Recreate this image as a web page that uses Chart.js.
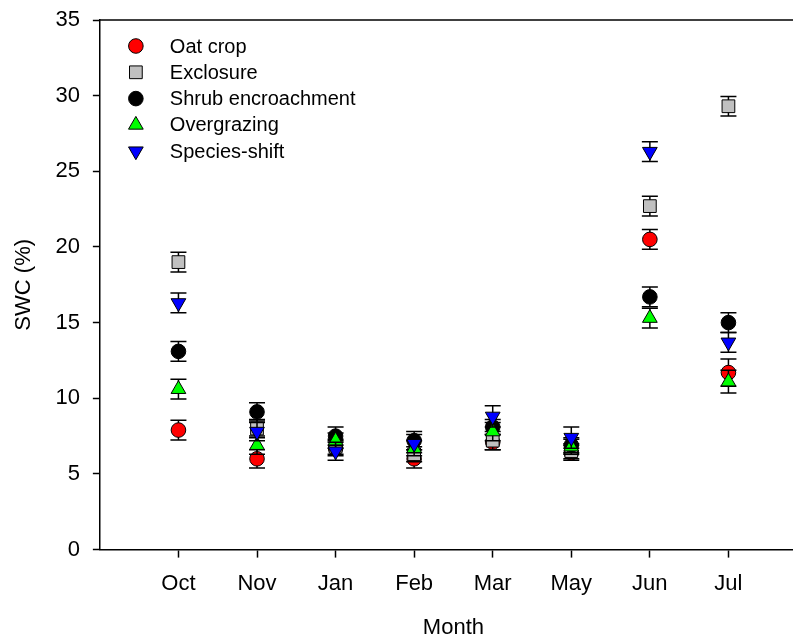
<!DOCTYPE html>
<html>
<head>
<meta charset="utf-8">
<script src="https://cdn.jsdelivr.net/npm/chart.js@4/dist/chart.umd.min.js"></script>
<style>
  html, body { margin: 0; padding: 0; background: #fff; overflow: hidden; }
  #wrap { width: 793px; height: 639px; overflow: hidden; }
</style>
</head>
<body>
<div id="wrap"><canvas id="chart" width="807" height="639"></canvas></div>
<script>
// values (SWC %, mean and error)
var months = ["Oct", "Nov", "Jan", "Feb", "Mar", "May", "Jun", "Jul"];

var oatCrop      = [7.9, 6.0, 6.7, 6.0, 7.1, 6.4, 20.5, 11.7];
var exclosure    = [19.0, 8.0, 6.8, 6.3, 7.2, 6.5, 22.7, 29.3];
var shrub        = [13.1, 9.1, 7.5, 7.2, 8.1, 6.9, 16.7, 15.0];
var overgrazing  = [10.6, 6.9, 7.2, 6.7, 7.8, 6.8, 15.3, 11.1];
var speciesShift = [16.3, 7.8, 6.5, 7.0, 8.8, 7.4, 26.3, 13.7];

var oatCropErr      = [0.65, 0.6, 0.5, 0.6, 0.5, 0.5, 0.65, 0.9];
var exclosureErr    = [0.65, 0.6, 0.5, 0.5, 0.6, 0.5, 0.65, 0.65];
var shrubErr        = [0.65, 0.6, 0.6, 0.6, 0.5, 0.5, 0.65, 0.65];
var overgrazingErr  = [0.65, 0.6, 0.5, 0.5, 0.6, 0.5, 0.65, 0.75];
var speciesShiftErr = [0.65, 0.6, 0.6, 0.6, 0.7, 0.7, 0.65, 0.65];

var yTicks = [0, 5, 10, 15, 20, 25, 30, 35];

var FONT = "'Liberation Sans', Arial, sans-serif";

function makeSet(label, values, errs, color, style, radius, rotation, n) {
  return {
    label: label,
    data: values.map(function (v, i) { return { x: i + 1, y: v }; }),
    errors: errs,
    backgroundColor: color,
    borderColor: "#000",
    borderWidth: 1,
    pointStyle: style,
    pointRadius: radius,
    pointHoverRadius: radius,
    pointRotation: rotation,
    showLine: false,
    clip: false,
    order: n   // later series are drawn on top
  };
}

var datasets = [
  makeSet("Oat crop", oatCrop, oatCropErr, "#ff0000", "circle", 7.3, 0, 4),
  makeSet("Exclosure", exclosure, exclosureErr, "#c0c0c0", "rect", 9, 0, 3),
  makeSet("Shrub encroachment", shrub, shrubErr, "#000000", "circle", 7.3, 0, 2),
  makeSet("Overgrazing", overgrazing, overgrazingErr, "#00ff00", "triangle", 8.5, 0, 1),
  makeSet("Species-shift", speciesShift, speciesShiftErr, "#0000ff", "triangle", 8.5, 180, 0)
];

// error bars go under each series' own markers
var errorBars = {
  id: "errorBars",
  beforeDatasetDraw: function (chart, args) {
    var ds = chart.data.datasets[args.index];
    var y = chart.scales.y;
    var ctx = chart.ctx;
    ctx.save();
    ctx.strokeStyle = "#000";
    ctx.lineWidth = 1.5;
    args.meta.data.forEach(function (pt, i) {
      var v = ds.data[i].y, e = ds.errors[i];
      var top = y.getPixelForValue(v + e), bot = y.getPixelForValue(v - e);
      ctx.beginPath();
      ctx.moveTo(pt.x, top); ctx.lineTo(pt.x, bot);
      ctx.moveTo(pt.x - 8, top); ctx.lineTo(pt.x + 8, top);
      ctx.moveTo(pt.x - 8, bot); ctx.lineTo(pt.x + 8, bot);
      ctx.stroke();
    });
    ctx.restore();
  }
};

// top frame line + legend inside plot
var frameLegend = {
  id: "frameLegend",
  afterDraw: function (chart) {
    var ctx = chart.ctx, a = chart.chartArea;
    ctx.save();
    ctx.strokeStyle = "#000";
    ctx.lineWidth = 1.5;
    ctx.beginPath();
    ctx.moveTo(a.left, a.top); ctx.lineTo(a.right, a.top);
    ctx.stroke();

    ctx.font = "20px " + FONT;
    ctx.textBaseline = "middle";
    ctx.textAlign = "left";
    chart.data.datasets.forEach(function (ds, i) {
      var px = a.left + 36, py = a.top + 26 + i * 26.3;
      ctx.fillStyle = ds.backgroundColor;
      ctx.strokeStyle = "#000";
      ctx.lineWidth = 1;
      Chart.helpers.drawPoint(ctx, {
        pointStyle: ds.pointStyle,
        rotation: ds.pointRotation,
        radius: ds.pointRadius,
        borderWidth: 1
      }, px, py);
      ctx.fillStyle = "#000";
      ctx.fillText(ds.label, a.left + 70, py + 1);
    });
    ctx.restore();
  }
};

new Chart(document.getElementById("chart"), {
  type: "scatter",
  data: { datasets: datasets },
  plugins: [errorBars, frameLegend],
  options: {
    responsive: false,
    animation: false,
    layout: { autoPadding: false, padding: { left: 0, top: 20, right: 0, bottom: 0 } },
    plugins: { legend: { display: false }, tooltip: { enabled: false } },
    scales: {
      x: {
        type: "linear",
        min: 0,
        max: 9,
        afterBuildTicks: function (scale) {
          scale.ticks = months.map(function (m, i) { return { value: i + 1 }; });
        },
        ticks: {
          autoSkip: false,
          maxRotation: 0,
          padding: 13,
          color: "#000",
          font: { family: FONT, size: 22 },
          callback: function (v) { return months[v - 1] || ""; }
        },
        grid: { drawOnChartArea: false, tickLength: 8, tickColor: "#000", tickWidth: 1.5 },
        border: { color: "#000", width: 1.5 },
        title: {
          display: true,
          text: "Month",
          color: "#000",
          font: { family: FONT, size: 22, lineHeight: 1 },
          padding: { top: 7, bottom: 0 }
        }
      },
      y: {
        min: 0,
        max: 35,
        afterBuildTicks: function (scale) {
          scale.ticks = yTicks.map(function (t) { return { value: t }; });
        },
        ticks: {
          padding: 13,
          color: "#000",
          font: { family: FONT, size: 22, lineHeight: 0.5 }
        },
        grid: { drawOnChartArea: false, tickLength: 7, tickColor: "#000", tickWidth: 1.5 },
        border: { color: "#000", width: 1.5 },
        title: {
          display: true,
          text: "SWC (%)",
          color: "#000",
          font: { family: FONT, size: 22 },
          padding: { top: 11, bottom: 5 }
        }
      }
    }
  }
});
</script>
</body>
</html>
